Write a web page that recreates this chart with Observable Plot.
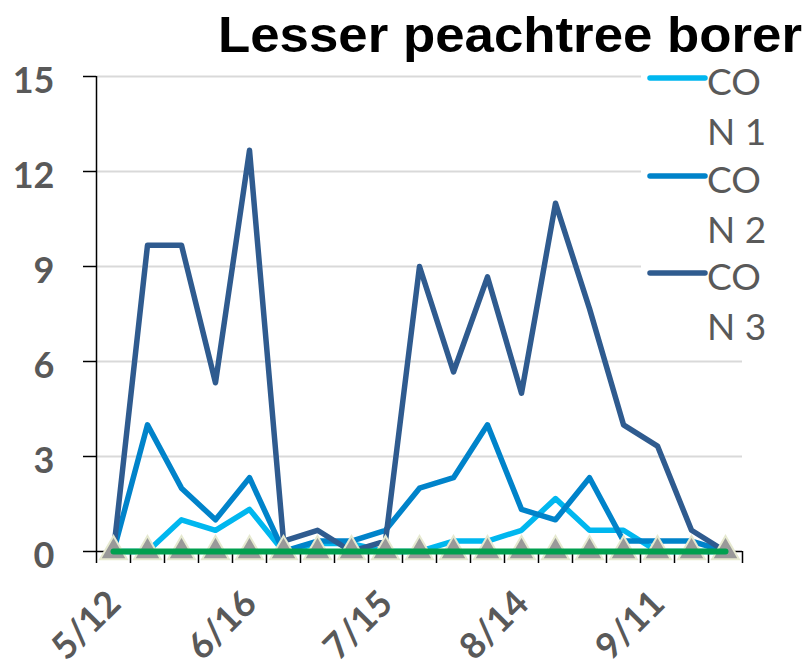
<!DOCTYPE html>
<html>
<head>
<meta charset="utf-8">
<script src="https://cdn.jsdelivr.net/npm/d3@7"></script>
<script src="https://cdn.jsdelivr.net/npm/@observablehq/plot@0.6"></script>
<style>
  html, body { margin: 0; padding: 0; background: #fff; }
  #chart { width: 812px; height: 669px; overflow: hidden; }
</style>
</head>
<body>
<div id="chart"></div>
<script>
// ---- data ----
const title = "Lesser peachtree borer";
const nSamples = 19;                       // sampling dates along the x axis
const dateLabels = ["5/12", "6/16", "7/15", "8/14", "9/11"];
const dateLabelIdx = [0, 4, 8, 12, 16];
const seriesNames = ["CON 1", "CON 2", "CON 3"];
const seriesColors = ["#00B7EF", "#0083CA", "#2F5B8F"];
const con1 = [0, 0, 1, 0.67, 1.33, 0, 0.25, 0.25, 0, 0, 0.33, 0.33, 0.67, 1.67, 0.67, 0.67, 0, 0, 0];
const con2 = [0, 4, 2, 1, 2.33, 0, 0.33, 0.33, 0.67, 2, 2.33, 4, 1.33, 1, 2.33, 0.33, 0.33, 0.33, 0];
const con3 = [0, 9.67, 9.67, 5.33, 12.67, 0.33, 0.67, 0, 0.33, 9, 5.67, 8.67, 5, 11, 7.67, 4, 3.33, 0.67, 0];
const trt4 = [0, 0, 0, 0, 0, 0, 0, 0, 0, 0, 0, 0, 0, 0, 0, 0, 0, 0, 0];   // green line
const trt5 = [0, 0, 0, 0, 0, 0, 0, 0, 0, 0, 0, 0, 0, 0, 0, 0, 0, 0, 0];   // grey triangles
const yTicks = [0, 3, 6, 9, 12, 15];

// ---- tables ----
const conSeries = [con1, con2, con3];
const lineRows = [];
conSeries.forEach((vals, s) => vals.forEach((v, i) => lineRows.push({i, value: v, series: seriesNames[s]})));
const greenRows = trt4.map((v, i) => ({i, value: v}));
const triRows = trt5.map((v, i) => ({i, value: v}));
const labelRows = dateLabels.map((t, k) => ({i: dateLabelIdx[k], label: t}));
const boundaries = d3.range(nSamples + 1).map(k => k - 0.5);

const fontAxis = "Lato, 'Open Sans', sans-serif";

const plot = Plot.plot({
  width: 812,
  height: 669,
  marginLeft: 96,
  marginRight: 70,
  marginTop: 76,
  marginBottom: 118,
  style: {background: "#fff", color: "#000", fontFamily: fontAxis, overflow: "visible"},
  x: {domain: [-0.5, nSamples - 0.5], axis: null},
  y: {domain: [0, 15], axis: null},
  color: {domain: seriesNames, range: seriesColors},
  marks: [
    Plot.gridY(yTicks.filter(d => d > 0), {stroke: "#D9D9D9", strokeOpacity: 1, strokeWidth: 2}),
    Plot.ruleX([-0.5], {y1: 0, y2: 15, stroke: "#000", strokeWidth: 1.5}),
    Plot.ruleY([0], {stroke: "#000", strokeWidth: 1.5}),
    Plot.axisX({ticks: boundaries, tickSize: 12, tickFormat: () => "", label: null, strokeWidth: 1.5}),
    Plot.axisY({ticks: yTicks, tickSize: 13, tickFormat: () => "", label: null, strokeWidth: 1.5}),
    Plot.axisY({ticks: yTicks, tickSize: 0, tickPadding: 42, fontSize: 36, fontWeight: "bold", label: null,
                fill: "#595959", dy: 5, fontFamily: fontAxis}),
    Plot.text(labelRows, {x: "i", text: "label", frameAnchor: "bottom", dy: 46, dx: 1, rotate: -45,
                textAnchor: "end", lineAnchor: "middle", fontSize: 36, fontWeight: "bold",
                fill: "#595959", fontFamily: fontAxis}),
    Plot.line(lineRows, {x: "i", y: "value", z: "series", stroke: "series", strokeWidth: 5.5,
                strokeLinejoin: "round", strokeLinecap: "round"}),
    Plot.dot(triRows, {x: "i", y: "value", symbol: "triangle", r: 10, dy: 0,
                fill: "#999999", stroke: "#E6E9D0", strokeWidth: 2}),
    Plot.line(greenRows, {x: "i", y: "value", stroke: "#00A04F", strokeWidth: 6, strokeLinecap: "round"})
  ]
});

document.getElementById("chart").appendChild(plot);

// ---- title and legend ----
const svg = d3.select(plot);
svg.append("text")
  .attr("x", 218).attr("y", 52)
  .attr("text-anchor", "start")
  .attr("font-family", "'Liberation Sans', Arial, sans-serif")
  .attr("font-weight", "bold").attr("font-size", 50)
  .attr("fill", "#000")
  .attr("textLength", 584).attr("lengthAdjust", "spacingAndGlyphs")
  .text(title);

svg.append("rect").attr("x", 641).attr("y", 62).attr("width", 171).attr("height", 285).attr("fill", "#fff");
const legendY = [78, 176, 273];
seriesNames.forEach((name, k) => {
  const g = svg.append("g").attr("text-anchor", "start");
  g.append("line").attr("x1", 650).attr("x2", 705).attr("y1", legendY[k]).attr("y2", legendY[k])
    .attr("stroke", seriesColors[k]).attr("stroke-width", 5.5).attr("stroke-linecap", "round");
  const [w1, w2] = name.split(" ");
  g.append("text").attr("x", 707).attr("y", legendY[k] + 17)
    .attr("font-family", fontAxis).attr("font-size", 37).attr("fill", "#595959").text(w1.slice(0, 2));
  g.append("text").attr("x", 707).attr("y", legendY[k] + 67)
    .attr("font-family", fontAxis).attr("font-size", 37).attr("fill", "#595959").text(w1.slice(2) + " " + w2);
});
</script>
</body>
</html>
